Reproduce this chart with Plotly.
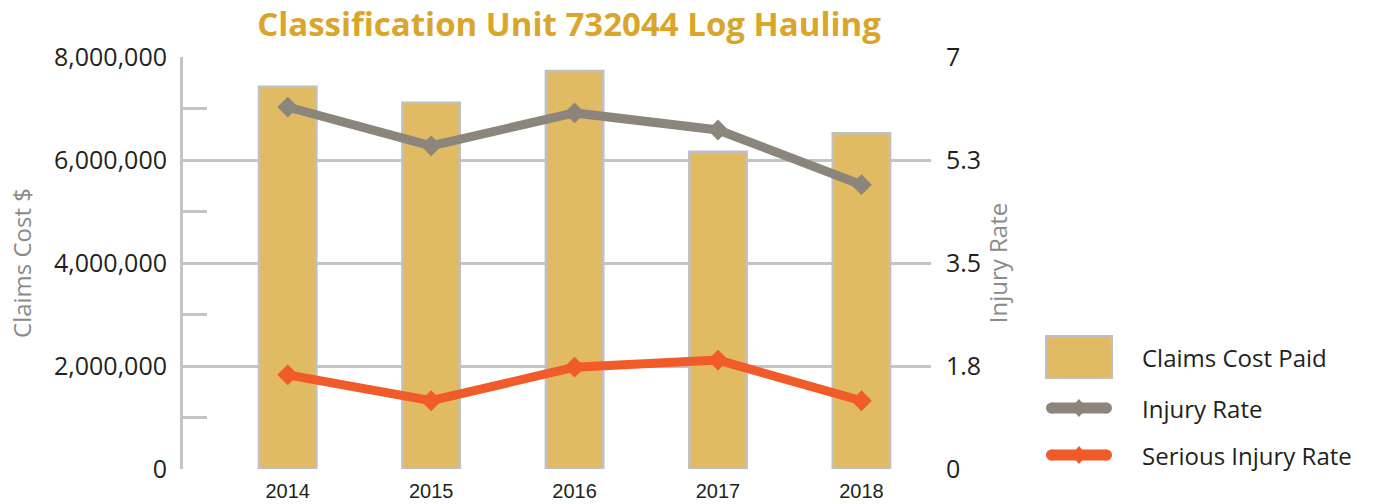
import plotly.graph_objects as go

years = ["2014", "2015", "2016", "2017", "2018"]
claims_cost = [7420000, 7110000, 7730000, 6160000, 6520000]
injury_rate = [6.15, 5.49, 6.05, 5.76, 4.83]
serious_rate = [1.60, 1.16, 1.73, 1.85, 1.16]

left_ticks = [0, 2000000, 4000000, 6000000, 8000000]
left_labels = ["0", "2,000,000", "4,000,000", "6,000,000", "8,000,000"]
right_ticks = [0, 1.75, 3.5, 5.25, 7]
right_labels = ["0", "1.8", "3.5", "5.3", "7"]

BAR = "#E1BA64"
BAR_EDGE = "#BFBFC4"
GRAY = "#8C857B"
ORANGE = "#F15A29"
GRID = "#C4C4C8"
FONT = "'Open Sans', Lato, sans-serif"

W, H = 1374, 504
PL, PR, PT, PB = 183, 931, 57, 469


def px(x):
    return (x - PL) / (PR - PL)


def py(y):
    return (PB - y) / (PB - PT)


fig = go.Figure()
fig.add_trace(go.Bar(x=years, y=claims_cost, name="Claims Cost Paid",
                     marker=dict(color=BAR, line=dict(color=BAR_EDGE, width=2.5)),
                     width=0.40, yaxis="y"))
fig.add_trace(go.Scatter(x=years, y=injury_rate, name="Injury Rate", mode="lines+markers",
                         line=dict(color=GRAY, width=9),
                         marker=dict(symbol="diamond", size=16, color=GRAY), yaxis="y2"))
fig.add_trace(go.Scatter(x=years, y=serious_rate, name="Serious Injury Rate", mode="lines+markers",
                         line=dict(color=ORANGE, width=9),
                         marker=dict(symbol="diamond", size=16, color=ORANGE), yaxis="y2"))

# custom legend
leg_items = [("Claims Cost Paid", "bar", BAR), ("Injury Rate", "line", GRAY), ("Serious Injury Rate", "line", ORANGE)]
leg_y = [357, 408, 455]
x0, x1 = 1046, 1112
shapes = []
annotations = []
for (name, kind, col), yy in zip(leg_items, leg_y):
    if kind == "bar":
        shapes.append(dict(type="rect", xref="paper", yref="paper",
                           x0=px(x0), x1=px(x1), y0=py(yy + 21), y1=py(yy - 21),
                           fillcolor=BAR, line=dict(color=BAR_EDGE, width=2)))
    else:
        shapes.append(dict(type="line", xref="paper", yref="paper",
                           x0=px(x0 + 5), x1=px(x1 - 5), y0=py(yy), y1=py(yy),
                           line=dict(color=col, width=11)))
        for cx0 in (x0, x1 - 11):
            shapes.append(dict(type="circle", xref="paper", yref="paper",
                               x0=px(cx0), x1=px(cx0 + 11), y0=py(yy + 5.5), y1=py(yy - 5.5),
                               fillcolor=col, line=dict(width=0)))
        cx = (x0 + x1) / 2
        shapes.append(dict(type="path", xref="paper", yref="paper",
                           path="M {a},{b} L {c},{d} L {a},{e} L {f},{d} Z".format(
                               a=px(cx), b=py(yy - 9), c=px(cx + 8), d=py(yy),
                               e=py(yy + 9), f=px(cx - 8)),
                           fillcolor=col, line=dict(width=0)))
    annotations.append(dict(text=name, xref="paper", yref="paper", x=px(1140), y=py(yy),
                            xanchor="left", yanchor="middle", showarrow=False,
                            font=dict(family=FONT, size=24, color="#231F20")))

fig.update_layout(
    width=W, height=H,
    paper_bgcolor="white", plot_bgcolor="white",
    margin=dict(l=PL, r=W - PR, t=PT, b=H - PB),
    showlegend=False,
    title=dict(text="<b>Classification Unit 732044 Log Hauling</b>", x=569 / W, xanchor="center",
               y=1 - 24 / H, yanchor="middle",
               font=dict(family=FONT, size=33, color="#DAA52B")),
    xaxis=dict(type="category", range=[-0.73, 4.485], showgrid=False, showline=False, automargin=False,
               ticks="", tickfont=dict(family="'Liberation Sans', Arial, sans-serif", size=20, color="#231F20"),
               ticklabelstandoff=8),
    yaxis=dict(range=[0, 8000000], tickvals=left_ticks, ticktext=left_labels, automargin=False,
               showgrid=True, gridcolor=GRID, gridwidth=2.5,
               showline=True, linecolor=GRID, linewidth=3,
               zeroline=False,
               minor=dict(tickvals=[1000000, 3000000, 5000000, 7000000], ticks="inside", ticklen=24,
                          tickcolor=GRID, tickwidth=2.5, showgrid=False),
               tickfont=dict(family=FONT, size=25, color="#231F20"), ticklabelstandoff=8,
               title=dict(text="Claims Cost $", font=dict(family=FONT, size=24, color="#8A8A8A"), standoff=16)),
    yaxis2=dict(range=[0, 7], tickvals=right_ticks, ticktext=right_labels, overlaying="y", side="right",
                showgrid=False, showline=False, zeroline=False, automargin=False,
                tickfont=dict(family=FONT, size=25, color="#231F20"), ticklabelstandoff=14,
                title=dict(text="Injury Rate", font=dict(family=FONT, size=24, color="#8A8A8A"), standoff=8)),
    shapes=shapes, annotations=annotations,
)

fig.write_html("out.html", config={"displayModeBar": False},
               post_script="document.body.style.margin='0';document.body.style.padding='0';")
